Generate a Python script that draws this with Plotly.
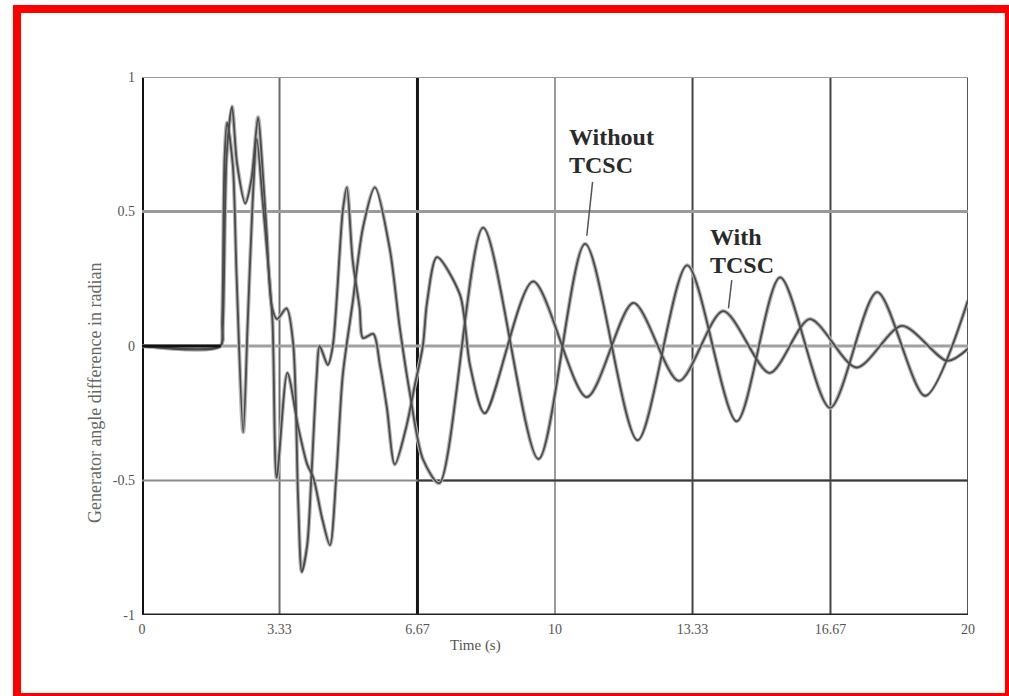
import plotly.graph_objects as go

# ---------------- data ----------------
x_tick_vals = [0, 3.33, 6.67, 10, 13.33, 16.67, 20]
x_tick_text = ["0", "3.33", "6.67", "10", "13.33", "16.67", "20"]
y_tick_vals = [-1, -0.5, 0, 0.5, 1]
y_tick_text = ["-1", "-0.5", "0", "0.5", "1"]

t_without = [0, 1.9, 1.94, 2.0, 2.06, 2.2, 2.29, 2.45, 2.56, 2.68, 2.78, 2.92, 3.04,
             3.16, 3.26, 3.52, 3.78, 4.0, 4.15, 4.36, 4.55, 4.71, 4.86, 5.1, 5.35,
             5.64, 6.0, 6.24, 6.48, 6.8, 7.2, 8.26, 9.6, 10.73, 12.0, 13.2, 14.4,
             15.45, 16.66, 17.8, 18.96, 20]
v_without = [0, 0, 0.09, 0.7, 0.83, 0.67, 0.26, -0.32, 0.09, 0.54, 0.77, 0.54, 0.33,
             0.09, -0.49, -0.1, -0.3, -0.44, -0.49, -0.64, -0.74, -0.47, -0.11, 0.16, 0.44,
             0.59, 0.36, 0.07, -0.17, -0.42, -0.51, 0.44, -0.42, 0.38, -0.35, 0.30, -0.28,
             0.255, -0.23, 0.20, -0.185, 0.17]

t_with = [0, 1.9, 1.95, 2.05, 2.18, 2.3, 2.5, 2.65, 2.81, 2.9, 3.02, 3.14, 3.27, 3.5,
          3.66, 3.78, 3.87, 4.0, 4.1, 4.23, 4.3, 4.5, 4.62, 4.86, 4.96, 5.1, 5.27,
          5.35, 5.6, 5.76, 5.93, 6.12, 6.4, 6.6, 6.8, 6.9, 7.14, 7.7, 7.94, 8.3,
          9.47, 10.77, 11.9, 13.0, 14.07, 15.2, 16.17, 17.3, 18.4, 19.5, 20]
v_with = [0, 0, 0.05, 0.71, 0.89, 0.68, 0.53, 0.62, 0.85, 0.7, 0.42, 0.15, 0.1, 0.14,
          0.01, -0.57, -0.84, -0.74, -0.49, -0.11, 0.0, -0.07, 0.0, 0.5, 0.59, 0.32, 0.14,
          0.03, 0.045, -0.07, -0.23, -0.44, -0.3, -0.15, 0.0, 0.16, 0.33, 0.19, -0.07, -0.25,
          0.24, -0.19, 0.16, -0.13, 0.13, -0.10, 0.10, -0.08, 0.075, -0.055, -0.01]

x_title = "Time (s)"
y_title = "Generator angle difference in radian"
label_without = ["Without", "TCSC"]
label_with = ["With", "TCSC"]

# ---------------- figure ----------------
W, H = 1009, 696
ML, MR, MT, MB = 142, 41, 77, 81
PW, PH = W - ML - MR, H - MT - MB

def px_to_paper_x(px):
    return (px - ML) / PW

def px_to_paper_y(py):
    return (H - MB - py) / PH

serif = "Liberation Serif, Times New Roman, serif"
fig = go.Figure()

for t, v in [(t_without, v_without), (t_with, v_with)]:
    fig.add_trace(go.Scatter(x=t, y=v, mode="lines",
                             line=dict(color="#b4b4b4", width=4, shape="spline", smoothing=0.8),
                             hoverinfo="skip", showlegend=False))
for t, v, name in [(t_without, v_without, "Without TCSC"), (t_with, v_with, "With TCSC")]:
    fig.add_trace(go.Scatter(x=t, y=v, mode="lines", name=name,
                             line=dict(color="#4a4a4a", width=1.8, shape="spline", smoothing=0.8),
                             showlegend=False))
# both curves coincide before the fault: drawn dark
fig.add_trace(go.Scatter(x=t_without[:2], y=v_without[:2], mode="lines",
                         line=dict(color="#111111", width=3), hoverinfo="skip", showlegend=False))

shapes = []
v_styles = [("#111111", 4), ("#6a6a6a", 2), ("#151515", 3), ("#9a9a9a", 2),
            ("#444444", 2), ("#444444", 2), ("#555555", 2)]
for xv, (c, w) in zip(x_tick_vals, v_styles):
    shapes.append(dict(type="line", xref="x", yref="y", x0=xv, x1=xv, y0=-1, y1=1,
                       line=dict(color=c, width=w), layer="below"))
h_styles = [("#222222", 3), ("#8a8a8a", 2), ("#a0a0a0", 3), ("#9a9a9a", 3), ("#9a9a9a", 2)]
for yv, (c, w) in zip(y_tick_vals, h_styles):
    shapes.append(dict(type="line", xref="x", yref="y", x0=0, x1=20, y0=yv, y1=yv,
                       line=dict(color=c, width=w), layer="below"))
shapes.append(dict(type="line", xref="x", yref="y", x0=x_tick_vals[2], x1=20,
                   y0=y_tick_vals[1], y1=y_tick_vals[1],
                   line=dict(color="#3a3a3a", width=2), layer="below"))

# pointer lines of the labels
shapes.append(dict(type="line", xref="x", yref="y", x0=10.91, y0=0.61, x1=10.77, y1=0.41,
                   line=dict(color="#555555", width=1.5)))
shapes.append(dict(type="line", xref="x", yref="y", x0=14.28, y0=0.245, x1=14.2, y1=0.14,
                   line=dict(color="#555555", width=1.5)))

# red picture frame
shapes.append(dict(type="rect", xref="paper", yref="paper",
                   x0=px_to_paper_x(17), x1=px_to_paper_x(1009),
                   y0=px_to_paper_y(697), y1=px_to_paper_y(9),
                   line=dict(color="#ff0000", width=8), fillcolor="rgba(0,0,0,0)"))

lab_font = dict(family=serif, size=24, color="#2a2a2a", weight="bold")
annotations = [
    dict(text=label_without[0], x=10.28, y=0.777, xref="x", yref="y", xanchor="left",
         yanchor="middle", showarrow=False, font=lab_font),
    dict(text=label_without[1], x=10.28, y=0.673, xref="x", yref="y", xanchor="left",
         yanchor="middle", showarrow=False, font=lab_font),
    dict(text=label_with[0], x=13.7, y=0.405, xref="x", yref="y", xanchor="left",
         yanchor="middle", showarrow=False, font=lab_font),
    dict(text=label_with[1], x=13.7, y=0.30, xref="x", yref="y", xanchor="left",
         yanchor="middle", showarrow=False, font=lab_font),
    dict(text=x_title, x=8.08, y=px_to_paper_y(645), xref="x", yref="paper",
         xanchor="center", yanchor="middle", showarrow=False,
         font=dict(family=serif, size=15, color="#555555")),
    dict(text=y_title, x=px_to_paper_x(95), y=-0.175, xref="paper", yref="y",
         xanchor="center", yanchor="middle", textangle=-90, showarrow=False,
         font=dict(family=serif, size=18, color="#666666")),
]

fig.update_layout(
    width=W, height=H,
    margin=dict(l=ML, r=MR, t=MT, b=MB, autoexpand=False),
    paper_bgcolor="white", plot_bgcolor="white",
    shapes=shapes, annotations=annotations,
    xaxis=dict(range=[0, 20], tickvals=x_tick_vals, ticktext=x_tick_text,
               showgrid=False, zeroline=False, showline=False, ticks="",
               ticklabelstandoff=4,
               tickfont=dict(family=serif, size=14, color="#555555")),
    yaxis=dict(range=[-1, 1], tickvals=y_tick_vals, ticktext=y_tick_text,
               showgrid=False, zeroline=False, showline=False, ticks="",
               ticklabelstandoff=6,
               tickfont=dict(family=serif, size=14, color="#555555")),
)

fig.write_html("out.html", config={"displayModeBar": False},
               post_script="document.body.style.margin='0';document.body.style.overflow='hidden';")
